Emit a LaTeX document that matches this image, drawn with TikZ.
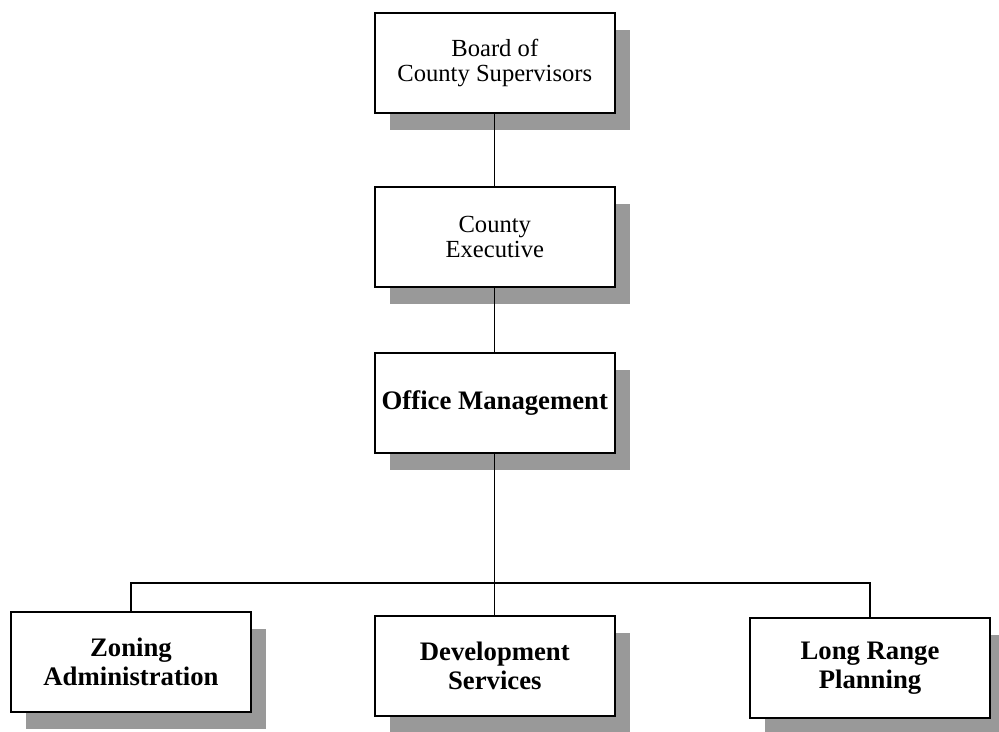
\documentclass[tikz,border=0pt]{standalone}
\usepackage{fontspec}
\setmainfont{Liberation Serif}
\usetikzlibrary{positioning,shadows}
\tikzset{link/.style={-,black,line width=0.9pt}}

\begin{document}
\begin{tikzpicture}
		\tikzstyle{Unit}=[rectangle,draw=black,line width=1.4pt,fill=white,align=center,
			minimum width=6cm,minimum height=2.5cm,
			drop shadow={shadow xshift=0.38cm,shadow yshift=-0.42cm,fill=black!40,opacity=1},
			font=\fontsize{17.5}{18}\selectfont]
		\tikzstyle{Dept}=[Unit,font=\fontsize{19}{21}\selectfont\bfseries]

		\useasboundingbox (0,0) rectangle (24.975,-18.275);

		\def\midx {12.37}
		\def\rowy {-16.55}

		% chain of command down the middle
		\node [Unit] (Board) at (\midx,-1.575) {Board of\\County Supervisors};
		\node [Unit] (Exec) at (\midx,-5.925) {County\\Executive};
		\node [Dept] (Office) at (\midx,-10.075) {Office Management};

		% the three divisions
		\node [Dept] (Zoning) at (3.275,\rowy) {Zoning\\Administration};
		\node [Dept] (Dev) at (\midx,{\rowy - 0.1}) {Development\\Services};
		\node [Dept] (LongRange) at (21.75,{\rowy - 0.15}) {Long Range\\Planning};

		\coordinate (Bus) at (\midx,-14.575);

		\draw [link] (Board) -- (Exec);
		\draw [link] (Exec) -- (Office);
		\draw [link] (Office) -- (Dev);
		\draw [link] (Zoning.north) |- (Bus) -| (LongRange.north);
\end{tikzpicture}
\end{document}
